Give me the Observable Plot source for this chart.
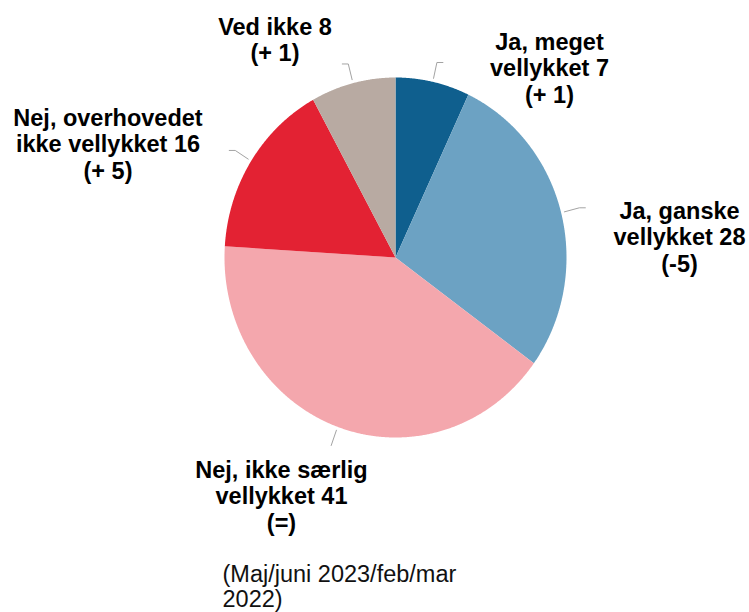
<!DOCTYPE html>
<html><head><meta charset="utf-8">
<script src="https://cdn.jsdelivr.net/npm/d3@7"></script>
<script src="https://cdn.jsdelivr.net/npm/@observablehq/plot@0.6"></script>
<style>body{margin:0;background:#fff} svg{display:block}</style>
</head><body><div id="chart"></div>
<script>
// ---- data ----
const categories = ["Ja, meget\nvellykket", "Ja, ganske\nvellykket", "Nej, ikke særlig\nvellykket", "Nej, overhovedet\nikke vellykket", "Ved ikke"];
const values = [7, 28, 41, 16, 8];
const changes = ["(+ 1)", "(-5)", "(=)", "(+ 5)", "(+ 1)"];
const colors = ["#0f5f8e", "#6ca2c3", "#f4a7ad", "#e32233", "#b8aaa2"];
const note = "(Maj/juni 2023/feb/mar\n2022)";

// ---- layout ----
const FS = 23.5, LH = 27;
const labelPos = [[549, 49], [679, 218], [281, 477], [107.5, 125], [274.5, 34]]; // centre x, first baseline
const tailDir = [1, 1, 0, -1, -1];
const notePos = [222, 581];
const NLH = 26;
const rx = 171;

const total = d3.sum(values);
let acc = 0;
const slices = values.map((v, i) => {
  const a0 = acc / total * 2 * Math.PI; acc += v;
  const a1 = acc / total * 2 * Math.PI;
  return {i, cat: categories[i], v, a0, a1, mid: (a0 + a1) / 2,
          text: `${categories[i]} ${v}\n${changes[i]}`};
});

const polyPts = [];
for (const s of slices) {
  polyPts.push({cat: s.cat, x: 0, y: 0});
  const n = Math.max(2, Math.ceil((s.a1 - s.a0) / 0.005));
  for (let j = 0; j <= n; j++) {
    const a = s.a0 + (s.a1 - s.a0) * j / n;
    polyPts.push({cat: s.cat, x: Math.sin(a), y: Math.cos(a)});
  }
}

const leaderPts = [];
for (const s of slices) {
  const sx = Math.sin(s.mid), sy = Math.cos(s.mid);
  leaderPts.push({k: s.i, x: sx * 1.02, y: sy * 1.02});
  leaderPts.push({k: s.i, x: sx * 1.11, y: sy * 1.11});
  if (tailDir[s.i]) leaderPts.push({k: s.i, x: sx * 1.11 + tailDir[s.i] * 6 / rx, y: sy * 1.11});
}

const font = "'Liberation Sans', Arial, Helvetica, sans-serif";
const off = 0.71 * LH;

const marks = [
  Plot.line(polyPts, {x: "x", y: "y", z: "cat", fill: "cat", stroke: "none", curve: "linear"}),
  Plot.line(leaderPts, {x: "x", y: "y", z: "k", stroke: "#a3a3a3", strokeWidth: 1}),
  ...slices.map(s => Plot.text([s.text], {
    frameAnchor: "top-left", dx: labelPos[s.i][0], dy: labelPos[s.i][1] - off,
    text: d => d, textAnchor: "middle", lineAnchor: "top", lineHeight: LH / FS,
    fontSize: FS, fontWeight: "bold", fill: "#000"
  })),
  Plot.text([note], {
    frameAnchor: "top-left", dx: notePos[0], dy: notePos[1] - 0.71 * NLH,
    text: d => d, textAnchor: "start", lineAnchor: "top", lineHeight: NLH / FS,
    fontSize: FS, fill: "#111"
  })
];

const chart = Plot.plot({
  width: 749, height: 612, margin: 0,
  style: {fontFamily: font, background: "#fff"},
  x: {domain: [-1, 1], range: [224, 566], axis: null},
  y: {domain: [-1, 1], range: [437, 77], axis: null},
  color: {domain: categories, range: colors},
  marks
});
document.getElementById("chart").appendChild(chart);
</script>
</body></html>
